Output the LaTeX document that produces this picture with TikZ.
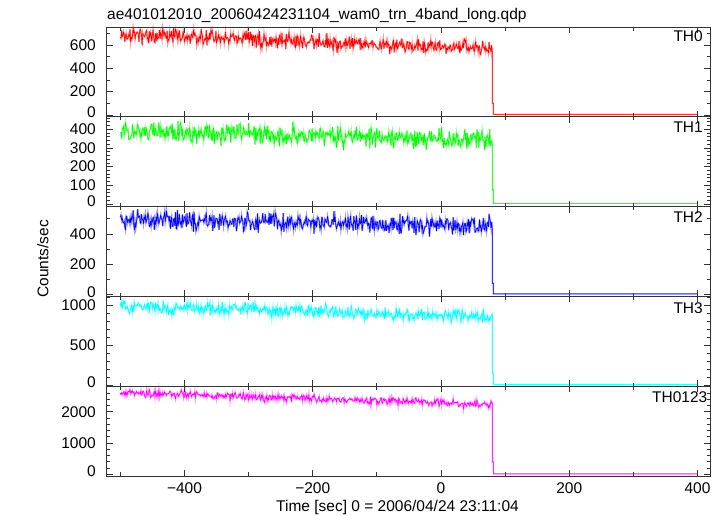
\documentclass[tikz,border=0pt]{standalone}
\usepackage{fontspec}
\setmainfont{Liberation Sans}
\definecolor{crd}{RGB}{255,0,0}
\definecolor{cgr}{RGB}{0,255,0}
\definecolor{cbl}{RGB}{0,0,255}
\definecolor{ccy}{RGB}{0,255,255}
\definecolor{cmg}{RGB}{255,0,255}
\newcommand{\panelaxes}[7]{% #1 top px, #2 bottom px, #3 zero px, #4 px per unit, #5 labelled values, #6 minor values, #7 name
  \draw[frame] (106.7,{516-#2}) rectangle (710.3,{516-#1});
  \foreach \v in {#5} {
    \draw[tk] (106.7,{516-#3+#4*\v}) -- ++(6,0);
    \draw[tk] (710.3,{516-#3+#4*\v}) -- ++(-6,0);
    \node[ylab] (#7-\v) at (96,{516-#3+#4*\v+(\v==0)*3}) {\v};
  }
  \foreach \v in {#6} {
    \draw[tk] (106.7,{516-#3+#4*\v}) -- ++(3.5,0);
    \draw[tk] (710.3,{516-#3+#4*\v}) -- ++(-3.5,0);
  }
  \foreach \t in {-400,-200,0,200,400} {
    \draw[tk] ({441+0.6413*\t},{516-#2}) -- ++(0,6);
    \draw[tk] ({441+0.6413*\t},{516-#1}) -- ++(0,-6);
  }
  \foreach \t in {-500,-300,-100,100,300} {
    \draw[tk] ({441+0.6413*\t},{516-#2}) -- ++(0,3.5);
    \draw[tk] ({441+0.6413*\t},{516-#1}) -- ++(0,-3.5);
  }
}
\begin{document}
\begin{tikzpicture}[x=1pt,y=1pt,
  font=\fontsize{15.5}{18}\selectfont,
  frame/.style={draw=black!80, line width=0.9pt},
  tk/.style={draw=black!80, line width=0.8pt},
  ylab/.style={anchor=east, inner sep=0pt},
  xlab/.style={anchor=center, inner sep=0pt},
  thlab/.style={anchor=east, inner sep=0pt},
  curve/.style={line width=0.6pt, line join=round}]
\useasboundingbox (0,0) rectangle (724,516);
\fill[white] (0,0) rectangle (724,516);

% ---------------- data curves ----------------
% TH0
\pgfmathsetseed{101}
\draw[curve, crd, preaction={draw=crd!40, line width=1.6pt}]
  plot[domain=-500:80, samples=581] ({441+0.6413*\x}, {401+0.1167*(688-0.2*(\x+500)+33*(rand+rand+rand))})
  -- ({441+0.6413*80},{401+0.1167*100}) -- ({441+0.6413*81.6},{401+0.1167*100})
  -- ({441+0.6413*81.6},{401+0.1167*5}) -- ({441+0.6413*399},{401+0.1167*5});
% TH1
\pgfmathsetseed{202}
\draw[curve, cgr, preaction={draw=cgr!40, line width=1.6pt}]
  plot[domain=-500:80, samples=581] ({441+0.6413*\x}, {312+0.1867*(390-0.0776*(\x+500)+27*(rand+rand+rand))})
  -- ({441+0.6413*80},{312+0.1867*75}) -- ({441+0.6413*81.6},{312+0.1867*75})
  -- ({441+0.6413*81.6},{312+0.1867*3}) -- ({441+0.6413*399},{312+0.1867*3});
% TH2
\pgfmathsetseed{303}
\draw[curve, cbl, preaction={draw=cbl!40, line width=1.6pt}]
  plot[domain=-500:80, samples=581] ({441+0.6413*\x}, {221.3+0.1517*(495-0.069*(\x+500)+30*(rand+rand+rand))})
  -- ({441+0.6413*80},{221.3+0.1517*75}) -- ({441+0.6413*81.6},{221.3+0.1517*75})
  -- ({441+0.6413*81.6},{221.3+0.1517*5}) -- ({441+0.6413*399},{221.3+0.1517*5});
% TH3
\pgfmathsetseed{404}
\draw[curve, ccy, preaction={draw=ccy!40, line width=1.6pt}]
  plot[domain=-500:80, samples=581] ({441+0.6413*\x}, {131+0.08*(990-0.241*(\x+500)+40*(rand+rand+rand))})
  -- ({441+0.6413*80},{131+0.08*150}) -- ({441+0.6413*81.6},{131+0.08*150})
  -- ({441+0.6413*81.6},{131+0.08*8}) -- ({441+0.6413*399},{131+0.08*8});
% TH0123
\pgfmathsetseed{505}
\draw[curve, cmg, preaction={draw=cmg!40, line width=1.6pt}]
  plot[domain=-500:80, samples=581] ({441+0.6413*\x}, {41.7+0.0313*(2610-0.655*(\x+500)+62*(rand+rand+rand))})
  -- ({441+0.6413*80},{41.7+0.0313*400}) -- ({441+0.6413*81.6},{41.7+0.0313*400})
  -- ({441+0.6413*81.6},{41.7+0.0313*15}) -- ({441+0.6413*399},{41.7+0.0313*15});

% ---------------- axes ----------------
\panelaxes{27.3}{116.8}{115}{0.1167}{0,200,400,600}{100,300,500,700}{pa}
\panelaxes{116.8}{206.6}{204}{0.1867}{0,100,200,300,400}{20,40,60,80,120,140,160,180,220,240,260,280,320,340,360,380,420,440,460}{pb}
\panelaxes{206.6}{296.4}{294.7}{0.1517}{0,200,400}{100,300,500}{pc}
\panelaxes{296.4}{386.2}{385}{0.08}{0,500,1000}{100,200,300,400,600,700,800,900,1100}{pd}
\panelaxes{386.2}{476}{474.3}{0.0313}{0,1000,2000}{200,400,600,800,1200,1400,1600,1800,2200,2400,2600,2800}{pe}

% x tick labels
\node[xlab] (xm400) at ({441+0.6413*(-400)},28) {−400};
\node[xlab] (xm200) at ({441+0.6413*(-200)},28) {−200};
\node[xlab] (x0)    at (441,28) {0};
\node[xlab] (x200)  at ({441+0.6413*200},28) {200};
\node[xlab] (x400)  at ({441+0.6413*400},28) {400};

% panel labels
\node[thlab] (th0) at (703,480) {TH0};
\node[thlab] (th1) at (703,389) {TH1};
\node[thlab] (th2) at (703,299) {TH2};
\node[thlab] (th3) at (703,208) {TH3};
\node[thlab] (th0123) at (707.5,119.3) {TH0123};

% titles
\node[anchor=base west, inner sep=0pt] (title) at (107,496.7) {ae401012010\_20060424231104\_wam0\_trn\_4band\_long.qdp};
\node[anchor=base, inner sep=0pt] (xtitle) at (397.5,4.2) {Time [sec] 0 = 2006/04/24 23:11:04};
\node[anchor=base, inner sep=0pt, rotate=90] (ytitle) at (48.3,257) {Counts/sec};
\end{tikzpicture}
\end{document}
